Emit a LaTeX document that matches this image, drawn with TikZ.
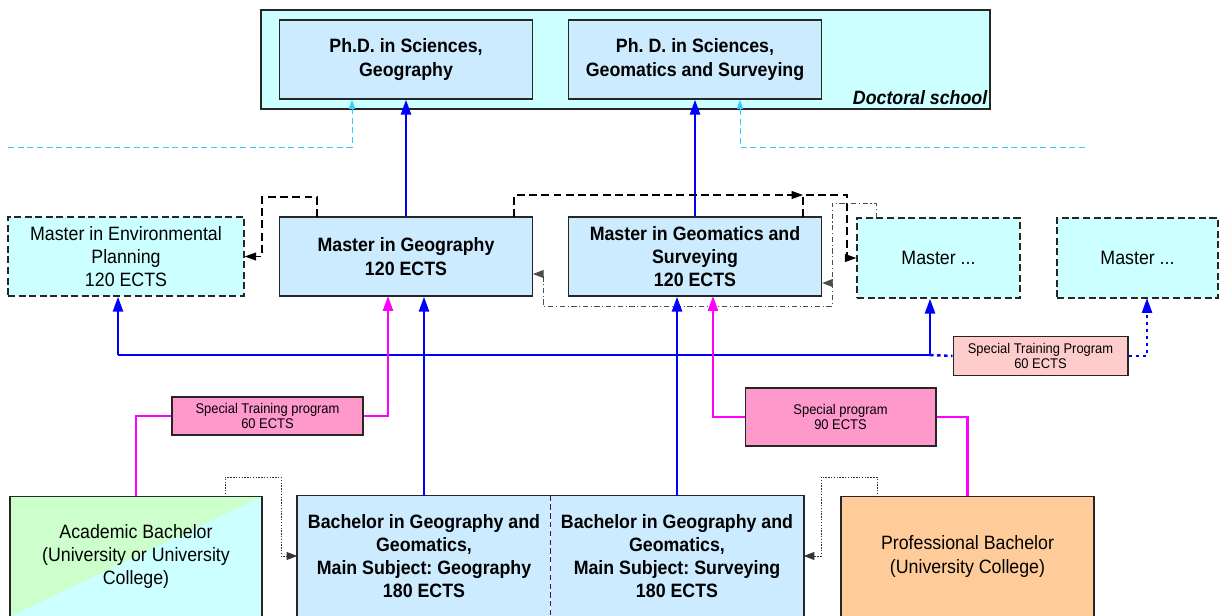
\documentclass[tikz,border=0pt]{standalone}
\usepackage{fontspec}
\setmainfont{Liberation Sans}[FakeStretch=0.92]
\usetikzlibrary{arrows.meta,calc}
\definecolor{schoolfill}{HTML}{CCFFFF}
\definecolor{progfill}{HTML}{CCEBFF}
\definecolor{pinkfill}{HTML}{FF99CC}
\definecolor{rosefill}{HTML}{FFCCCC}
\definecolor{orangefill}{HTML}{FFCC99}
\definecolor{greenfill}{HTML}{CCFFCC}
\definecolor{cyanlink}{HTML}{33CCFF}
\definecolor{pinklink}{HTML}{FF00FF}
\definecolor{bluelink}{HTML}{0000FF}
\frenchspacing
\begin{document}
\begin{tikzpicture}[x=0.02cm,y=-0.02cm,
    every node/.style={align=center,inner sep=0pt,font=\fontsize{11}{13.2}\selectfont},
    boxline/.style={draw=black!85,line width=0.8pt},
    schoolbox/.style={boxline,fill=schoolfill,minimum width=14.58cm,minimum height=1.98cm},
    progbox/.style={boxline,fill=progfill,minimum width=5.06cm,minimum height=1.58cm,
      font=\bfseries\fontsize{11}{13.2}\selectfont},
    openbox/.style={boxline,dash pattern=on 4pt off 2pt,fill=schoolfill,minimum height=1.6cm},
    trainbox/.style={boxline,line width=0.6pt,minimum width=3.82cm,font=\fontsize{8}{9}\selectfont},
    bachbox/.style={minimum width=5.06cm,minimum height=2.4cm},
    blueline/.style={bluelink,line width=1.4pt,>={Triangle[length=8.5pt,width=5.7pt]}},
    pinkline/.style={pinklink,line width=1.4pt,>={Triangle[length=8.5pt,width=5.7pt]}},
    cyanline/.style={cyanlink,line width=0.5pt,dash pattern=on 3.5pt off 2pt,>={Triangle[length=5pt,width=3.5pt]}},
    linkdash/.style={black,line width=0.7pt,dash pattern=on 4.5pt off 2.5pt,>={Triangle[length=6.5pt,width=4.5pt]}},
    linkdd/.style={black!70,line width=0.5pt,dash pattern=on 3pt off 1.5pt on 0.6pt off 1.5pt,>={Triangle[length=6pt,width=4.5pt]}},
    linkdot/.style={black!80,line width=0.5pt,dash pattern=on 0.8pt off 0.8pt,>={Triangle[length=6pt,width=4.5pt]}}]
  \clip (0,0) rectangle (1219,615);

  % doctoral school
  \node[schoolbox] (DS) at (625.5,59.5) {};
  \node[progbox] (PG) at (406,59.5) {Ph.D. in Sciences,\\Geography};
  \node[progbox] (PS) at (695,59.5) {Ph. D. in Sciences,\\Geomatics and Surveying};
  \node[anchor=south east,font=\bfseries\itshape\fontsize{11}{13.2}\selectfont] (DSL)
    at ($(DS.south east)+(-3,-5)$) {Doctoral school};

  % masters
  \node[openbox,minimum width=4.72cm,minimum height=1.58cm] (ME) at (126,256.5) {Master in Environmental\\Planning\\120 ECTS};
  \node[progbox] (MG) at (406,256.5) {Master in Geography\\120 ECTS};
  \node[progbox] (MS) at (695,256.5) {Master in Geomatics and\\Surveying\\120 ECTS};
  \node[openbox,minimum width=3.26cm] (MX1) at (938.5,258) {Master ...};
  \node[openbox,minimum width=3.22cm] (MX2) at (1137.5,258) {Master ...};

  % special programs
  \node[trainbox,fill=pinkfill,minimum height=0.76cm] (ST1) at (267.5,416) {Special Training program\\60 ECTS};
  \node[trainbox,fill=pinkfill,minimum height=1.16cm] (SP) at (840.5,417) {Special program\\90 ECTS};
  \node[trainbox,fill=rosefill,minimum width=3.5cm,minimum height=0.78cm] (ST2) at (1040.5,356) {Special Training Program\\60 ECTS};

  % bachelors
  \node[bachbox,boxline,fill=schoolfill,minimum width=5.04cm,path picture={
      \fill[greenfill] (path picture bounding box.north west) -- (path picture bounding box.north east)
        -- (path picture bounding box.south west) -- cycle;}] (AB) at (136,556.5)
    {Academic Bachelor\\(University or University\\College)};
  \node[bachbox,fill=progfill,font=\bfseries\fontsize{11}{13.2}\selectfont] (BG) at (424,556)
    {Bachelor in Geography and\\Geomatics,\\Main Subject: Geography\\180 ECTS};
  \node[bachbox,fill=progfill,font=\bfseries\fontsize{11}{13.2}\selectfont] (BS) at (677,556)
    {Bachelor in Geography and\\Geomatics,\\Main Subject: Surveying\\180 ECTS};
  \draw[boxline] (BG.north west) rectangle (BS.south east);
  \draw[black!85,line width=0.5pt,dash pattern=on 3pt off 2pt] (BG.north east) -- (BG.south east);
  \node[bachbox,boxline,fill=orangefill] (PB) at (967.5,556.5) {Professional Bachelor\\(University College)};

  \coordinate (C1) at (8,147);
  \coordinate (C2) at (352,100);
  \coordinate (C3) at (1085,147);
  \coordinate (C4) at (740,100);
  \coordinate (D1) at (317,217);
  \coordinate (D2) at (262,197);
  \coordinate (D3) at (514,217);
  \coordinate (D4) at (803,195);
  \coordinate (D5) at (803,217);
  \coordinate (D6) at (847,195);
  \coordinate (E1) at (876,218);
  \coordinate (E2) at (832,203);
  \coordinate (E3) at (543,306);
  \coordinate (E4) at (533,274);
  \coordinate (E5) at (832,283);
  \coordinate (F1) at (225,497);
  \coordinate (F2) at (281,477);
  \coordinate (F3) at (877,497);
  \coordinate (F4) at (821,477);
  \coordinate (K1) at (388,296);
  \coordinate (K2) at (713,296);
  \coordinate (L1) at (118,355);
  \coordinate (L2) at (930,355);
  \coordinate (L3) at (1147,298);

  \draw[cyanline,->] (C1) -| (C2);
  \draw[cyanline,->] (C3) -| (C4);
  \draw[blueline,->] (MG.north) -- (PG.south);
  \draw[blueline,->] (MS.north) -- (PS.south);

  \draw[linkdash,->] (D1) |- (D2) |- (ME.east);
  \draw[linkdash,->] (D3) |- (D4);
  \draw[linkdash,->] (D5) |- (D6) |- (MX1.west);
  \draw[linkdd,->] (E1) |- (E2) |- (E3) |- (E4);
  \draw[linkdd,->] (E5) -- (E5 -| MS.east);

  \draw[blueline] (L1) -- (L2);
  \draw[blueline,->] (L1) -- (L1 |- ME.south);
  \draw[blueline,->] (L2) -- (L2 |- MX1.south);
  \draw[blueline,dash pattern=on 2pt off 2pt] (L2) -- (ST2.west);
  \draw[blueline,dash pattern=on 2pt off 2pt,->] (ST2.east) -| (L3);
  \draw[blueline,->] (BG.north) -- (BG.north |- MG.south);
  \draw[blueline,->] (BS.north) -- (BS.north |- MS.south);

  \draw[pinkline] (AB.north) |- (ST1.west);
  \draw[pinkline,->] (ST1.east) -| (K1);
  \draw[pinkline,->] (SP.west) -| (K2);
  \draw[pinkline] (SP.east) -| (PB.north);

  \draw[linkdot,->] (F1) |- (F2) |- (BG.west);
  \draw[linkdot,->] (F3) |- (F4) |- (BS.east);
\end{tikzpicture}
\end{document}
